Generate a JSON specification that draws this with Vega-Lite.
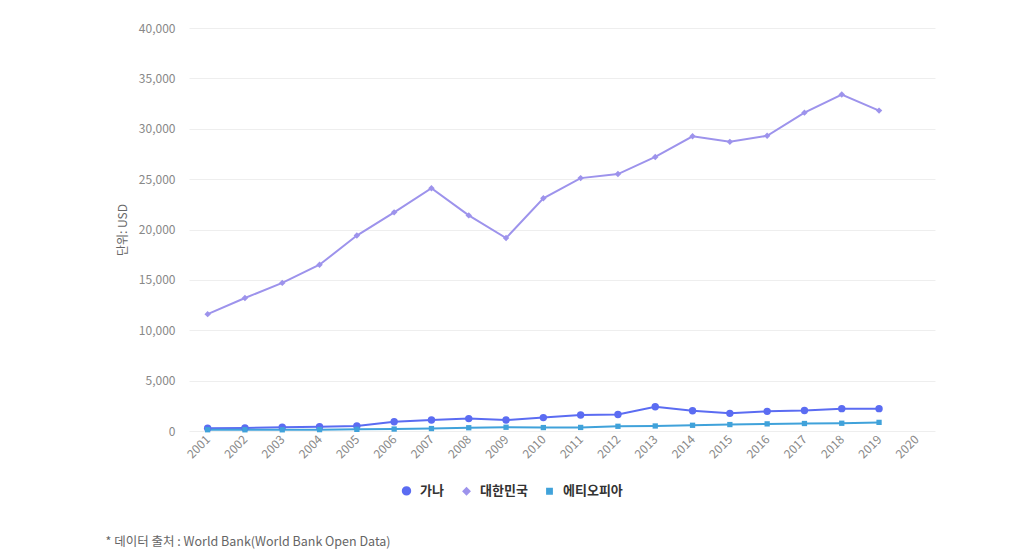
{
  "$schema": "https://vega.github.io/schema/vega-lite/v6.json",
  "autosize": {"type": "none"},
  "width": 746,
  "height": 403,
  "padding": {"left": 189, "top": 28, "right": 83, "bottom": 127},
  "background": "white",
  "config": {
    "font": "Noto Sans CJK KR",
    "view": {"stroke": null}
  },
  "data": {
    "values": [
      {"year": "2001", "country": "가나", "gdp": 270},
      {"year": "2002", "country": "가나", "gdp": 305},
      {"year": "2003", "country": "가나", "gdp": 370},
      {"year": "2004", "country": "가나", "gdp": 420},
      {"year": "2005", "country": "가나", "gdp": 500},
      {"year": "2006", "country": "가나", "gdp": 920},
      {"year": "2007", "country": "가나", "gdp": 1100},
      {"year": "2008", "country": "가나", "gdp": 1230},
      {"year": "2009", "country": "가나", "gdp": 1090},
      {"year": "2010", "country": "가나", "gdp": 1330},
      {"year": "2011", "country": "가나", "gdp": 1590},
      {"year": "2012", "country": "가나", "gdp": 1630},
      {"year": "2013", "country": "가나", "gdp": 2400},
      {"year": "2014", "country": "가나", "gdp": 2010},
      {"year": "2015", "country": "가나", "gdp": 1750},
      {"year": "2016", "country": "가나", "gdp": 1950},
      {"year": "2017", "country": "가나", "gdp": 2030},
      {"year": "2018", "country": "가나", "gdp": 2220},
      {"year": "2019", "country": "가나", "gdp": 2220},
      {"year": "2001", "country": "대한민국", "gdp": 11600},
      {"year": "2002", "country": "대한민국", "gdp": 13200},
      {"year": "2003", "country": "대한민국", "gdp": 14700},
      {"year": "2004", "country": "대한민국", "gdp": 16500},
      {"year": "2005", "country": "대한민국", "gdp": 19400},
      {"year": "2006", "country": "대한민국", "gdp": 21700},
      {"year": "2007", "country": "대한민국", "gdp": 24100},
      {"year": "2008", "country": "대한민국", "gdp": 21400},
      {"year": "2009", "country": "대한민국", "gdp": 19150},
      {"year": "2010", "country": "대한민국", "gdp": 23100},
      {"year": "2011", "country": "대한민국", "gdp": 25100},
      {"year": "2012", "country": "대한민국", "gdp": 25500},
      {"year": "2013", "country": "대한민국", "gdp": 27200},
      {"year": "2014", "country": "대한민국", "gdp": 29250},
      {"year": "2015", "country": "대한민국", "gdp": 28700},
      {"year": "2016", "country": "대한민국", "gdp": 29300},
      {"year": "2017", "country": "대한민국", "gdp": 31600},
      {"year": "2018", "country": "대한민국", "gdp": 33400},
      {"year": "2019", "country": "대한민국", "gdp": 31800},
      {"year": "2001", "country": "에티오피아", "gdp": 124},
      {"year": "2002", "country": "에티오피아", "gdp": 119},
      {"year": "2003", "country": "에티오피아", "gdp": 119},
      {"year": "2004", "country": "에티오피아", "gdp": 136},
      {"year": "2005", "country": "에티오피아", "gdp": 162},
      {"year": "2006", "country": "에티오피아", "gdp": 193},
      {"year": "2007", "country": "에티오피아", "gdp": 243},
      {"year": "2008", "country": "에티오피아", "gdp": 324},
      {"year": "2009", "country": "에티오피아", "gdp": 374},
      {"year": "2010", "country": "에티오피아", "gdp": 341},
      {"year": "2011", "country": "에티오피아", "gdp": 354},
      {"year": "2012", "country": "에티오피아", "gdp": 467},
      {"year": "2013", "country": "에티오피아", "gdp": 499},
      {"year": "2014", "country": "에티오피아", "gdp": 568},
      {"year": "2015", "country": "에티오피아", "gdp": 640},
      {"year": "2016", "country": "에티오피아", "gdp": 707},
      {"year": "2017", "country": "에티오피아", "gdp": 744},
      {"year": "2018", "country": "에티오피아", "gdp": 770},
      {"year": "2019", "country": "에티오피아", "gdp": 856}
    ]
  },
  "encoding": {
    "x": {
      "field": "year",
      "type": "ordinal",
      "scale": {
        "type": "point",
        "padding": 0.5,
        "domain": ["2001","2002","2003","2004","2005","2006","2007","2008","2009","2010","2011","2012","2013","2014","2015","2016","2017","2018","2019","2020"]
      },
      "axis": {
        "title": "* 데이터 출처 : World Bank(World Bank Open Data)",
        "titleX": -84,
        "titleY": 110,
        "titleAlign": "left",
        "titleAnchor": "start",
        "titleBaseline": "middle",
        "titleFontSize": 12.5,
        "titleFontWeight": "normal",
        "titleColor": "#666666",
        "labelAngle": -45,
        "labelAlign": "right",
        "labelBaseline": "middle",
        "labelPadding": 6,
        "labelFontSize": 12,
        "labelColor": "#888888",
        "ticks": false,
        "domain": false,
        "grid": false
      }
    },
    "y": {
      "field": "gdp",
      "type": "quantitative",
      "scale": {"domain": [0, 40000], "nice": false},
      "axis": {
        "title": "단위: USD",
        "titleFontSize": 12,
        "titleFontWeight": "normal",
        "titleColor": "#666666",
        "titlePadding": 9,
        "values": [0,5000,10000,15000,20000,25000,30000,35000,40000],
        "format": ",d",
        "labelFontSize": 12,
        "labelColor": "#888888",
        "labelPadding": 14,
        "ticks": false,
        "domain": false,
        "gridColor": "#eeeeee",
        "gridWidth": 1
      }
    },
    "color": {
      "field": "country",
      "type": "nominal",
      "scale": {
        "domain": ["가나", "대한민국", "에티오피아"],
        "range": ["#5b6cf2", "#9d93ec", "#40a2da"]
      },
      "legend": {
        "title": null,
        "orient": "none",
        "direction": "horizontal",
        "legendX": 211,
        "legendY": 456,
        "labelFontSize": 13,
        "labelFontWeight": "bold",
        "labelColor": "#333333",
        "columnPadding": 15,
        "symbolSize": 60,
        "labelOffset": 7
      }
    }
  },
  "layer": [
    {
      "mark": {"type": "line", "strokeWidth": 2},
      "encoding": {
        "strokeWidth": {
          "field": "country",
          "type": "nominal",
          "scale": {"domain": ["가나", "대한민국", "에티오피아"], "range": [2, 1.5, 2]},
          "legend": null
        }
      }
    },
    {
      "mark": {"type": "point", "filled": true, "opacity": 1},
      "encoding": {
        "shape": {
          "field": "country",
          "type": "nominal",
          "scale": {"domain": ["가나", "대한민국", "에티오피아"], "range": ["circle", "diamond", "square"]},
          "legend": {
            "title": null,
            "orient": "none",
            "direction": "horizontal",
            "legendX": 211,
            "legendY": 456,
            "labelFontSize": 13,
            "labelFontWeight": "bold",
            "labelColor": "#333333",
            "columnPadding": 15,
            "symbolSize": 60,
            "labelOffset": 7
          }
        },
        "size": {
          "field": "country",
          "type": "nominal",
          "scale": {"domain": ["가나", "대한민국", "에티오피아"], "range": [55, 28, 55]},
          "legend": null
        }
      }
    }
  ]
}
